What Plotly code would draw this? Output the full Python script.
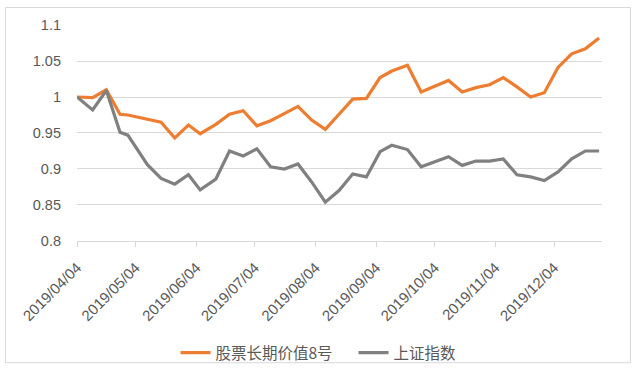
import plotly.graph_objects as go

dates = ["2019-04-04", "2019-04-12", "2019-04-19", "2019-04-26", "2019-04-30",
         "2019-05-10", "2019-05-17", "2019-05-24", "2019-05-31", "2019-06-06",
         "2019-06-14", "2019-06-21", "2019-06-28", "2019-07-05", "2019-07-12",
         "2019-07-19", "2019-07-26", "2019-08-02", "2019-08-09", "2019-08-16",
         "2019-08-23", "2019-08-30", "2019-09-06", "2019-09-12", "2019-09-20",
         "2019-09-27", "2019-10-11", "2019-10-18", "2019-10-25", "2019-11-01",
         "2019-11-08", "2019-11-15", "2019-11-22", "2019-11-29", "2019-12-06",
         "2019-12-13", "2019-12-20", "2019-12-27"]

fund = [1.000, 0.999, 1.010, 0.976, 0.975, 0.969, 0.965, 0.943, 0.961, 0.949,
        0.962, 0.976, 0.981, 0.960, 0.967, 0.977, 0.987, 0.968, 0.955, 0.976,
        0.997, 0.998, 1.027, 1.036, 1.044, 1.007, 1.023, 1.007, 1.013, 1.017,
        1.027, 1.014, 1.000, 1.006, 1.041, 1.060, 1.067, 1.082]

index = [1.000, 0.982, 1.009, 0.951, 0.947, 0.906, 0.887, 0.879, 0.892, 0.871,
         0.886, 0.925, 0.918, 0.928, 0.903, 0.900, 0.907, 0.882, 0.854, 0.870,
         0.893, 0.889, 0.924, 0.933, 0.927, 0.903, 0.917, 0.905, 0.911, 0.911,
         0.914, 0.892, 0.889, 0.884, 0.896, 0.914, 0.925, 0.925]

series_names = ["股票长期价值8号", "上证指数"]

x_tick_vals = ["2019-04-04", "2019-05-04", "2019-06-04", "2019-07-04", "2019-08-04",
               "2019-09-04", "2019-10-04", "2019-11-04", "2019-12-04"]
x_tick_text = ["2019/04/04", "2019/05/04", "2019/06/04", "2019/07/04", "2019/08/04",
               "2019/09/04", "2019/10/04", "2019/11/04", "2019/12/04"]
y_tick_vals = [0.8, 0.85, 0.9, 0.95, 1.0, 1.05, 1.1]
y_tick_text = ["0.8", "0.85", "0.9", "0.95", "1", "1.05", "1.1"]

W, H = 639, 390
ML, MR, MT, MB = 77, 37, 25, 137
pw, ph = W - ML - MR, H - MT - MB

def px_to_paper_x(px):
    return (px - ML) / pw

def px_to_paper_y(py):
    return (H - MB - py) / ph

grid = "#d9d9d9"
txt = "#595959"

fig = go.Figure()
fig.add_trace(go.Scatter(x=dates, y=fund, name=series_names[0], mode="lines",
                         line=dict(color="#ED7D31", width=3.2)))
fig.add_trace(go.Scatter(x=dates, y=index, name=series_names[1], mode="lines",
                         line=dict(color="#808080", width=3.2)))

fig.update_layout(
    width=W, height=H,
    margin=dict(l=ML, r=MR, t=MT, b=MB, pad=0),
    paper_bgcolor="white", plot_bgcolor="white",
    font=dict(family="Liberation Sans, Arial, Noto Sans CJK SC", color=txt, size=14),
    xaxis=dict(type="date", range=["2019-04-04", "2019-12-28 12:00"],
               tickvals=x_tick_vals, ticktext=x_tick_text, tickangle=-45,
               ticks="outside", ticklen=5, tickcolor=grid, tickwidth=1,
               showgrid=False, showline=True, linecolor=grid, linewidth=1,
               zeroline=False, ticklabelstandoff=6,
               tickfont=dict(size=15, color=txt)),
    yaxis=dict(range=[0.8, 1.1], tickvals=y_tick_vals, ticktext=y_tick_text,
               showgrid=True, gridcolor=grid, gridwidth=1, zeroline=False,
               showline=False, ticks="", ticklabelstandoff=15,
               tickfont=dict(size=14.5, color=txt)),
    legend=dict(orientation="h", xref="container", yref="container",
                x=0.5 + 34 / W, xanchor="center", y=1 - 353 / H, yanchor="middle",
                entrywidth=133, entrywidthmode="pixels",
                font=dict(family="Noto Sans CJK SC", size=15.5, color=txt),
                bgcolor="rgba(0,0,0,0)"),
    showlegend=True,
)

fig.add_shape(type="rect", xref="paper", yref="paper",
              x0=px_to_paper_x(5.5), x1=px_to_paper_x(630.5),
              y0=px_to_paper_y(381.5), y1=px_to_paper_y(6.5),
              line=dict(color=grid, width=1), fillcolor="rgba(0,0,0,0)", layer="below")

fig.write_html("out.html", config={"displayModeBar": False},
               post_script="document.body.style.margin='0';document.body.style.overflow='hidden';")
